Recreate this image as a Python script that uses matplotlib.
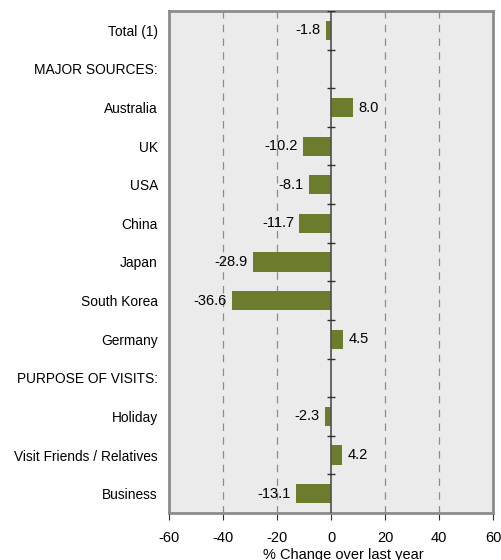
import matplotlib.pyplot as plt
import numpy as np

categories = ['Total (1)', 'MAJOR SOURCES:', 'Australia', 'UK', 'USA', 'China',
              'Japan', 'South Korea', 'Germany', 'PURPOSE OF VISITS:', 'Holiday',
              'Visit Friends / Relatives', 'Business']
values = [-1.8, None, 8.0, -10.2, -8.1, -11.7, -28.9, -36.6, 4.5, None, -2.3, 4.2, -13.1]
xticks = [-60, -40, -20, 0, 20, 40, 60]

plt.rcParams['font.family'] = ['Liberation Sans', 'DejaVu Sans']

fig = plt.figure(figsize=(5.02, 5.60), dpi=100)
ax = fig.add_axes([169 / 502, 1 - 513 / 560, 324 / 502, 502 / 560])
ax.set_facecolor('#EBEBEB')

y = np.arange(len(categories))
bar_color = '#6B7D2C'
for yi, v in zip(y, values):
    if v is None:
        continue
    ax.barh(yi, v, height=0.5, color=bar_color, zorder=3)
    if v < 0:
        ax.text(v - 2.0, yi, f'{v:.1f}', ha='right', va='center', fontsize=10.5, zorder=4)
    else:
        ax.text(v + 2.0, yi, f'{v:.1f}', ha='left', va='center', fontsize=10.5, zorder=4)

for g in [-40, -20, 20, 40]:
    ax.axvline(g, color='#8C8C8C', linestyle=(0, (6, 5)), linewidth=0.9, zorder=1)
ax.axvline(0, color='#505050', linewidth=1.2, zorder=4)
bounds = np.arange(len(categories) + 1) - 0.5
ax.hlines(bounds[:-1], -1.5, 1.5, color='#303030', linewidth=1.0, zorder=4)

ax.set_xlim(-60, 60)
ax.set_ylim(len(categories) - 0.5, -0.5)
ax.set_xticks(xticks)
ax.set_xticklabels([str(t) for t in xticks], fontsize=10.5)
ax.tick_params(axis='x', direction='out', length=5, color='#303030', pad=8)
ax.set_yticks(y)
ax.set_yticklabels(categories, fontsize=9.9)
ax.tick_params(axis='y', length=0, pad=8)
ax.set_xlabel('% Change over last year', fontsize=10.5)
ax.xaxis.set_label_coords(0.537, -0.069)

for s in ax.spines.values():
    s.set_color('#8C8C8C')
    s.set_linewidth(2)

fig.savefig('out.png', dpi=100)
